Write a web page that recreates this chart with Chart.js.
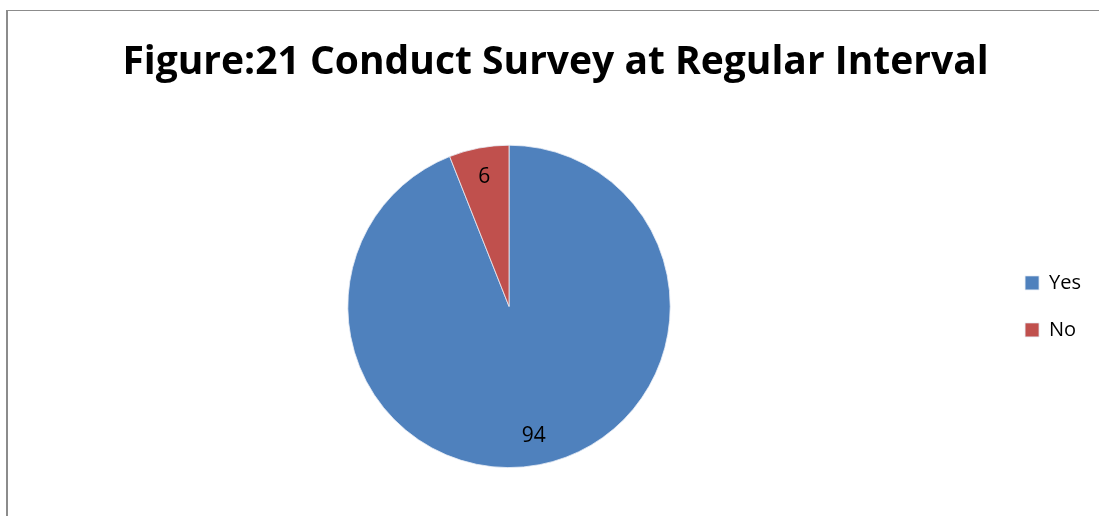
<html><head><meta charset="UTF-8">
<title>Figure:21 Conduct Survey at Regular Interval</title>
<style>
    body, html {
        margin: 0;
        padding: 0;
        background-color: #fff;
        overflow: hidden;
        font-family: 'Open Sans', sans-serif;
    }
    .frame {
        position: absolute;
        left: 6px;
        top: 10px;
        width: 1100px;
        height: 520px;
        border-left: 2px solid #8c8c8c;
        border-top: 1px solid #8c8c8c;
    }
    .chart-box {
        position: absolute;
        left: 0;
        top: 0;
        width: 1100px;
        height: 506px;
    }
</style>
<script src="https://cdn.jsdelivr.net/npm/chart.js"></script>
</head>
<body>
    <div class="frame">
        <div class="chart-box">
            <canvas id="surveyChart"></canvas>
        </div>
    </div>

    <script>
        const categories = ['Yes', 'No'];
        const values = [94, 6];
        const sliceColors = ['#4F81BD', '#C0504D'];

        // values written inside the slices
        const sliceLabels = {
            id: 'sliceLabels',
            afterDatasetsDraw(chart) {
                const ctx = chart.ctx;
                const meta = chart.getDatasetMeta(0);
                ctx.save();
                ctx.fillStyle = '#000';
                ctx.font = '21px "Open Sans", sans-serif';
                ctx.textAlign = 'center';
                ctx.textBaseline = 'middle';
                meta.data.forEach((arc, i) => {
                    const p = arc.getProps(['x', 'y', 'startAngle', 'endAngle', 'outerRadius'], true);
                    const mid = (p.startAngle + p.endAngle) / 2;
                    const r = p.outerRadius * 0.82;
                    ctx.fillText(values[i], p.x + Math.cos(mid) * r, p.y + Math.sin(mid) * r);
                });
                ctx.restore();
            }
        };

        new Chart(document.getElementById('surveyChart'), {
            type: 'pie',
            data: {
                labels: categories,
                datasets: [{
                    data: values,
                    backgroundColor: sliceColors,
                    borderColor: '#e8eef6',
                    borderWidth: 0.8
                }]
            },
            options: {
                responsive: true,
                maintainAspectRatio: false,
                animation: false,
                layout: {
                    padding: { left: 12, right: 17, bottom: 49 }
                },
                plugins: {
                    title: {
                        display: true,
                        text: 'Figure:21 Conduct Survey at Regular Interval',
                        color: '#000',
                        font: { family: 'Open Sans', size: 39, weight: 'bold' },
                        padding: { top: 28, bottom: 59 }
                    },
                    legend: {
                        position: 'right',
                        fullSize: false,
                        labels: {
                            color: '#000',
                            font: { family: 'Open Sans', size: 20 },
                            boxWidth: 14,
                            boxHeight: 14,
                            padding: 27
                        }
                    },
                    tooltip: { enabled: false }
                }
            },
            plugins: [sliceLabels]
        });
    </script>
</body>
</html>
